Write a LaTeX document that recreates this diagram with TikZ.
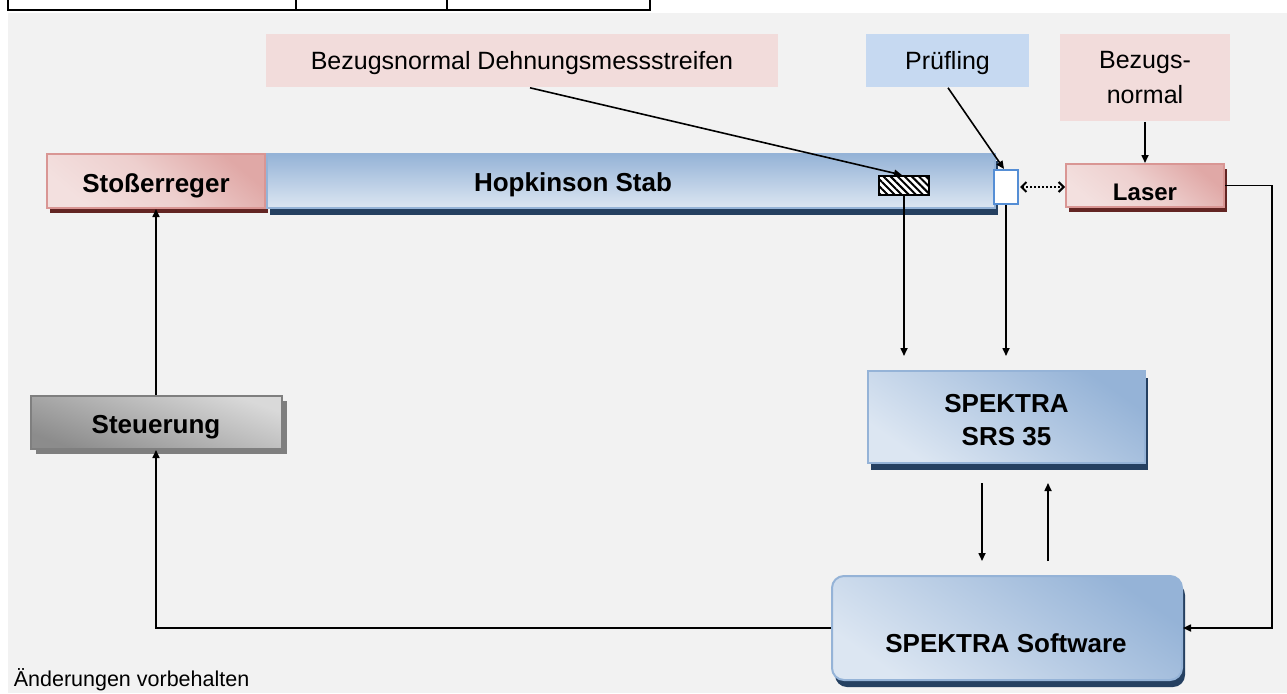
\documentclass[tikz,border=0pt]{standalone}
\usepackage{fontspec}
\setmainfont{Liberation Sans}
\usetikzlibrary{arrows.meta,shadows,patterns.meta}

\definecolor{bgcol}{HTML}{F2F2F2}
\definecolor{tagred}{HTML}{F2DCDB}
\definecolor{tagblue}{HTML}{C6D9F1}
\definecolor{redlight}{HTML}{F3E0DF}
\definecolor{reddark}{HTML}{E0A8A6}
\definecolor{redline}{HTML}{D99694}
\definecolor{redshadow}{HTML}{632523}
\definecolor{bluelight}{HTML}{DCE6F2}
\definecolor{bluedark}{HTML}{95B3D7}
\definecolor{blueline}{HTML}{95B3D7}
\definecolor{blueshadow}{HTML}{254061}
\definecolor{greylight}{HTML}{D9D9D9}
\definecolor{greydark}{HTML}{8C8C8C}
\definecolor{greyline}{HTML}{7F7F7F}
\definecolor{probeline}{HTML}{558ED5}

\begin{document}
\begin{tikzpicture}[x=1pt,y=-1pt,>={Triangle[length=8pt,width=7pt]},line width=1.6pt]
    \tikzstyle{block}=[draw,line width=2pt,inner sep=0pt,align=center,font=\fontsize{26}{33}\selectfont\bfseries]
    \tikzstyle{one line}=[text height=22pt,text depth=0pt]
    \tikzstyle{red block}=[block,draw=redline,top color=reddark,bottom color=redlight,middle color=redlight!70!reddark,shading angle=-40,
        drop shadow={shadow xshift=3pt,shadow yshift=-5pt,fill=redshadow,opacity=1}]
    \tikzstyle{blue block}=[block,draw=blueline,top color=bluedark,bottom color=bluelight,shading angle=-35,
        drop shadow={shadow xshift=3pt,shadow yshift=-7pt,fill=blueshadow,opacity=1}]
    \tikzstyle{grey block}=[block,draw=greyline,top color=greylight,bottom color=greydark,shading angle=-20,
        drop shadow={shadow xshift=5pt,shadow yshift=-5pt,fill=greyline,opacity=1}]
    \tikzstyle{tag}=[inner sep=0pt,align=center,font=\fontsize{25}{35}\selectfont]
    \tikzstyle{tag red}=[tag,fill=tagred]
    \tikzstyle{tag blue}=[tag,fill=tagblue]
    \tikzstyle{boldtext}=[inner sep=0pt,text height=18.7pt,text depth=0pt,font=\fontsize{26}{31}\selectfont\bfseries]

    \useasboundingbox (0,0) rectangle (1287,693);

    % Background and the table stub at the top
    \fill[bgcol] (8,13) rectangle (1287,693);
    \draw[line width=2.5pt] (8,0) -- (8,10) -- (650,10) -- (650,0);
    \foreach \x in {296,447}
        \draw[line width=2.5pt] (\x,0) -- (\x,10);

    % Draw the bar line
    \node[red block,one line,minimum width=218pt,minimum height=54pt] (stoss) at (156,181) {Stoßerreger};
    \node[blue block,shading angle=0,minimum width=728pt,minimum height=54pt] (stab) at (631,181) {};
    \node[boldtext] (stabtxt) at (573,182) {Hopkinson Stab};
    \node[draw,line width=2pt,minimum width=50pt,minimum height=19pt,inner sep=0pt,
        preaction={fill=white},pattern={Lines[angle=-45,distance=5pt,line width=2pt]}] (gauge) at (904,185.5) {};
    \node[draw=probeline,fill=white,line width=2pt,minimum width=24pt,minimum height=34pt,inner sep=0pt] (probe) at (1006,187) {};
    \node[red block,minimum width=158pt,minimum height=43pt] (laser) at (1145,185.5) {};
    \node[boldtext,text height=17.3pt,font=\fontsize{24}{29}\selectfont\bfseries] (lasertxt) at (1145,192) {Laser};

    % Captions
    \node[tag red,one line,text height=17.5pt,minimum width=512pt,minimum height=53pt] (dms) at (522,60.5) {Bezugsnormal Dehnungsmessstreifen};
    \node[tag blue,one line,text height=17.5pt,minimum width=163pt,minimum height=53pt] (pruefl) at (947.5,60.5) {Prüfling};
    \node[tag red,minimum width=170pt,minimum height=87pt] (bez) at (1145,77.5) {Bezugs-\\normal};

    % Electronics
    \node[blue block,minimum width=277pt,minimum height=92pt] (srs) at (1006.5,417) {\rule{0pt}{25pt}SPEKTRA\\SRS 35};
    \node[blue block,rounded corners=12pt,minimum width=350pt,minimum height=104pt] (soft) at (1007,628) {};
    \node[boldtext] (softtxt) at (1006,643) {SPEKTRA Software};
    \node[grey block,one line,minimum width=251pt,minimum height=53pt] (steu) at (156,422.5) {Steuerung};

    % Connect the captions with their parts
    \draw[->] ([xshift=8pt]dms.south) -- ([xshift=-2pt]gauge.north);
    \draw[->] ([xshift=0.5pt]pruefl.south) -- ([xshift=-2pt]probe.north);
    \draw[->] (bez.south) -- (laser.north);

    % Signals
    \draw[->,shorten >=14pt] (gauge.south) -- (gauge.south |- srs.north);
    \draw[->,shorten >=14pt] (probe.south) -- (probe.south |- srs.north);
    \draw[->,shorten <=19pt,shorten >=14pt] ([xshift=-24.5pt]srs.south) -- ([xshift=-24.5pt]srs.south |- soft.north);
    \draw[->,shorten <=14pt,shorten >=19pt] ([xshift=41.5pt]srs.south |- soft.north) -- ([xshift=41.5pt]srs.south);
    \draw[{Straight Barb[length=5pt,width=10pt]}-{Straight Barb[length=5pt,width=10pt]},
        dash pattern=on 2pt off 2pt,line width=2pt,shorten <=1pt] (probe.east) -- (probe.east -| laser.west);
    \draw[->] (laser.east) -- ++(47,0) |- (soft.east);
    \draw[->] (soft.west) -| (steu.south);
    \draw[->] (steu.north) -- (stoss.south);

    \node[anchor=west,inner sep=0pt,font=\fontsize{21.5}{26}\selectfont] (note) at (13,680) {Änderungen vorbehalten};
\end{tikzpicture}
\end{document}
